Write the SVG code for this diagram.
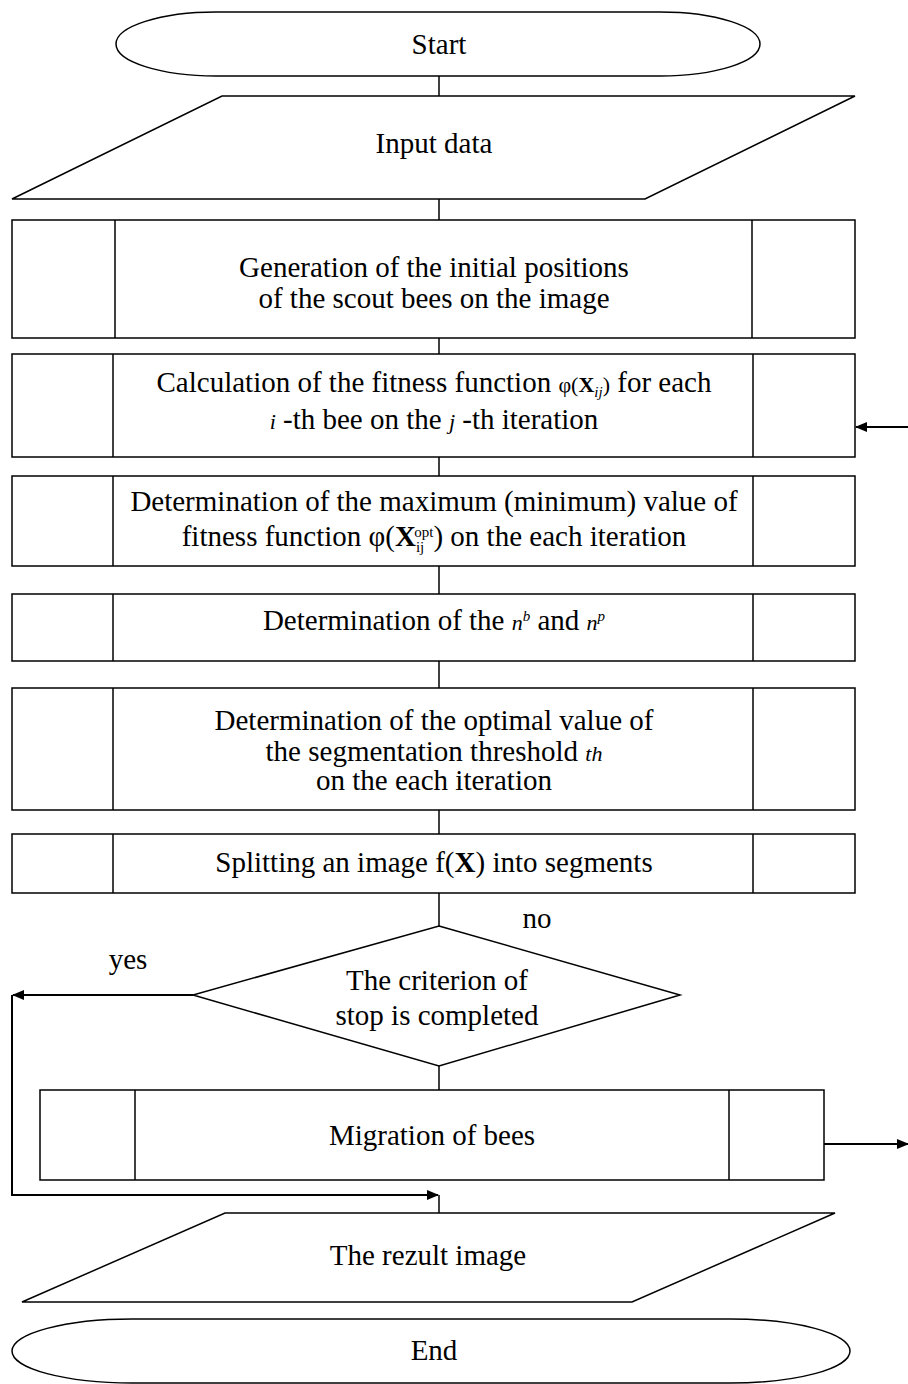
<svg xmlns="http://www.w3.org/2000/svg" width="908" height="1384" viewBox="0 0 908 1384">
<style>
.s{fill:#fff;stroke:#000;stroke-width:1.5}
.l{fill:none;stroke:#000;stroke-width:1.5}
.a{fill:none;stroke:#000;stroke-width:2}
text{font-family:"Liberation Serif","Times New Roman",serif;font-size:29px;fill:#000;text-anchor:middle}
.m{font-size:22px}
.b{font-weight:bold}
.i{font-style:italic}
.sub{font-size:15px}
</style>
<defs>
<marker id="ah" markerWidth="12" markerHeight="10" refX="11" refY="5" orient="auto" markerUnits="userSpaceOnUse">
<path d="M0,0 L12,5 L0,10 Z" fill="#000"/>
</marker>
</defs>
<rect width="908" height="1384" fill="#fff"/>
<g id="connectors">
<line class="l" x1="439" y1="76" x2="439" y2="96"/>
<line class="l" x1="439" y1="199" x2="439" y2="220"/>
<line class="l" x1="439" y1="338" x2="439" y2="354"/>
<line class="l" x1="439" y1="457" x2="439" y2="476"/>
<line class="l" x1="439" y1="566" x2="439" y2="594"/>
<line class="l" x1="439" y1="661" x2="439" y2="688"/>
<line class="l" x1="439" y1="810" x2="439" y2="834"/>
<line class="l" x1="439" y1="893" x2="439" y2="926"/>
<line class="l" x1="439" y1="1066" x2="439" y2="1090"/>
<line class="l" x1="439" y1="1195" x2="439" y2="1213"/>
<line class="a" x1="908" y1="427" x2="856" y2="427" marker-end="url(#ah)"/>
<line class="a" x1="193" y1="995" x2="13" y2="995" marker-end="url(#ah)"/>
<polyline class="a" points="12,995 12,1195 438,1195" marker-end="url(#ah)"/>
<line class="a" x1="824" y1="1144" x2="908" y2="1144" marker-end="url(#ah)"/>
<text x="537" y="928">no</text>
<text x="128" y="969">yes</text>
</g>
<g id="start">
<rect class="s" x="116" y="12" width="644" height="64" rx="100" ry="32"/>
<text x="439" y="54">Start</text>
</g>
<g id="input">
<polygon class="s" points="222,96 855,96 645,199 12,199"/>
<text x="434" y="153">Input data</text>
</g>
<g id="gen">
<rect class="s" x="12" y="220" width="843" height="118"/>
<line class="l" x1="115" y1="220" x2="115" y2="338"/>
<line class="l" x1="752" y1="220" x2="752" y2="338"/>
<text x="434" y="277">Generation of the initial positions</text>
<text x="434" y="308">of the scout bees on the image</text>
</g>
<g id="fitness">
<rect class="s" x="12" y="354" width="843" height="103"/>
<line class="l" x1="113" y1="354" x2="113" y2="457"/>
<line class="l" x1="753" y1="354" x2="753" y2="457"/>
<text x="434" y="392">Calculation of the fitness function <tspan class="m">φ(</tspan><tspan class="m b">X</tspan><tspan class="sub i" dy="5">ij</tspan><tspan class="m" dy="-5">)</tspan> for each</text>
<text x="434" y="429"><tspan class="m i">i</tspan> -th bee on the  <tspan class="m i">j</tspan> -th iteration</text>
</g>
<g id="maxmin">
<rect class="s" x="12" y="476" width="843" height="90"/>
<line class="l" x1="113" y1="476" x2="113" y2="566"/>
<line class="l" x1="753" y1="476" x2="753" y2="566"/>
<text x="434" y="511">Determination of the maximum (minimum) value of</text>
<text x="434" y="546">fitness function φ(<tspan class="b">X</tspan><tspan class="sub" dy="6">ij</tspan><tspan class="sub" dx="-10" dy="-15">opt</tspan><tspan dy="9">)</tspan> on the each iteration</text>
</g>
<g id="nbnp">
<rect class="s" x="12" y="594" width="843" height="67"/>
<line class="l" x1="113" y1="594" x2="113" y2="661"/>
<line class="l" x1="753" y1="594" x2="753" y2="661"/>
<text x="434" y="630">Determination of the <tspan class="m i">n</tspan><tspan class="sub i" dy="-9">b</tspan><tspan dy="9"> and </tspan><tspan class="m i">n</tspan><tspan class="sub i" dy="-9">p</tspan></text>
</g>
<g id="threshold">
<rect class="s" x="12" y="688" width="843" height="122"/>
<line class="l" x1="113" y1="688" x2="113" y2="810"/>
<line class="l" x1="753" y1="688" x2="753" y2="810"/>
<text x="434" y="730">Determination of the optimal value of</text>
<text x="434" y="761">the segmentation threshold <tspan class="m i">th</tspan></text>
<text x="434" y="790">on the each iteration</text>
</g>
<g id="split">
<rect class="s" x="12" y="834" width="843" height="59"/>
<line class="l" x1="113" y1="834" x2="113" y2="893"/>
<line class="l" x1="753" y1="834" x2="753" y2="893"/>
<text x="434" y="872">Splitting an image f(<tspan class="b">X</tspan>) into segments</text>
</g>
<g id="decision">
<polygon class="s" points="439,926 680,995 439,1066 193,995"/>
<text x="437" y="990">The criterion of</text>
<text x="437" y="1025">stop is completed</text>
</g>
<g id="migration">
<rect class="s" x="40" y="1090" width="784" height="90"/>
<line class="l" x1="135" y1="1090" x2="135" y2="1180"/>
<line class="l" x1="729" y1="1090" x2="729" y2="1180"/>
<text x="432" y="1145">Migration of bees</text>
</g>
<g id="result">
<polygon class="s" points="225,1213 835,1213 632,1302 22,1302"/>
<text x="428" y="1265">The rezult image</text>
</g>
<g id="end">
<rect class="s" x="12" y="1319" width="838" height="64" rx="120" ry="32"/>
<text x="434" y="1360">End</text>
</g>
</svg>
